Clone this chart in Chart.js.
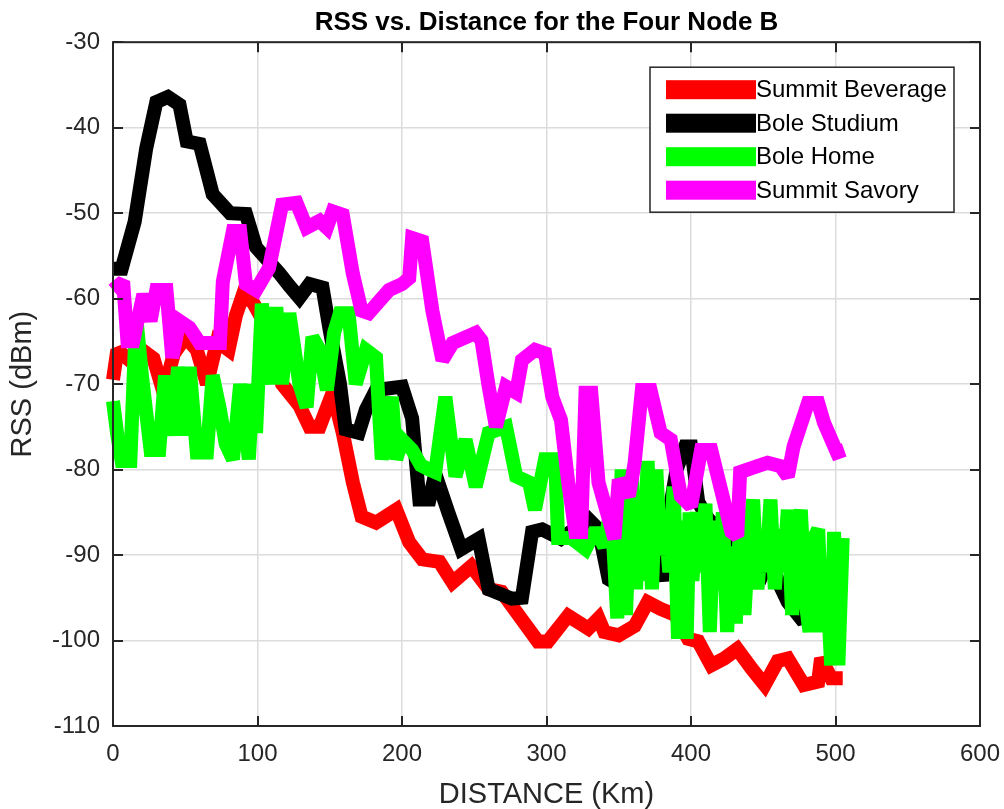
<!DOCTYPE html>
<html>
<head>
<meta charset="utf-8">
<script src="https://cdn.jsdelivr.net/npm/chart.js@4.4.1/dist/chart.umd.min.js"></script>
<style>
html,body{margin:0;padding:0;background:#fff;}
#wrap{width:1004px;height:809px;position:relative;}
</style>
</head>
<body>
<div id="wrap"><canvas id="c" width="1004" height="809"></canvas></div>
<script>
// ---- data ----
const chartTitle = 'RSS vs. Distance for the Four Node B';
const xTitle = 'DISTANCE (Km)';
const yTitle = 'RSS (dBm)';
const xTicks = [0, 100, 200, 300, 400, 500, 600];
const yTicks = [-110, -100, -90, -80, -70, -60, -50, -40, -30];

const seriesNames = ['Summit Beverage', 'Bole Studium', 'Bole Home', 'Summit Savory'];
const seriesColors = ['#ff0000', '#000000', '#00ff00', '#ff00ff'];

const beverageX = [0,3,10,20,28,35,42,50,58,65,72,80,85,90,97,102,106,117,129,136,143,152,159,166,172,182,196,205,214,226,235,248,260,269,281,294,301,315,329,336,340,350,361,370,379,389,398,405,414,423,432,442,451,460,467,478,488,490,497,505];
const beverageY = [-69.5,-66,-67,-66,-67,-71,-66.5,-64.5,-66,-70,-65,-66,-62,-59.5,-60.5,-62,-63,-70,-72.5,-75,-75,-71,-75.7,-81.5,-85.5,-86.2,-84.7,-88.5,-90.5,-90.8,-93.2,-91.3,-94,-94.3,-97.1,-100.1,-100.1,-97.1,-98.6,-97.4,-99,-99.4,-98.3,-95.5,-96.3,-97,-99.8,-100.1,-102.9,-102.1,-101,-103.3,-105.2,-102.4,-102.1,-105.2,-104.8,-102.1,-104.4,-104.4];

const studiumX = [0,6,15,23,30,38,46,51,60,69,81,92,99,107,115,122,129,136,145,150,157,161,170,175,182,200,207,212,219,223,232,241,253,260,276,283,290,297,310,329,336,343,350,355,360,365,370,375,380,385,390,396,400,405,412,420,425,430,435,440,445,450,455,460,467,476,485];
const studiumY = [-56.5,-56.5,-51,-42.4,-37,-36.4,-37.3,-41.6,-41.9,-47.8,-50,-50.1,-54,-55.5,-57,-58.5,-59.9,-58.3,-58.7,-63.7,-69.9,-75.3,-75.7,-73,-70.7,-70.3,-74,-83.5,-83.5,-80.5,-85,-89.3,-88.1,-94,-95.1,-95,-87.3,-87,-88.1,-85.8,-87,-92.8,-93.5,-90,-93,-88,-92,-90,-93,-85,-80,-77.3,-77.3,-83.8,-85.8,-87,-90,-88,-90,-92,-91,-92,-90,-93,-95.5,-97.4,-97];

const homeX = [0,3,6,12,16,20,26,32,36,41,45,50,53,58,65,69,74,78,83,88,94,97,99,103,110,113,117,122,129,134,138,143,148,153,157,163,168,175,182,186,193,196,200,207,213,219,223,230,237,244,251,260,272,279,288,292,299,306,308,317,327,334,340,343,346,349,352,355,357,359,362,364,367,370,373,376,379,382,385,388,391,394,397,399,401,404,407,410,413,416,419,422,425,428,431,434,437,440,443,446,449,452,455,458,461,464,467,470,473,476,479,482,485,488,491,494,497,499,502,505];
const homeY = [-72,-76,-79,-79,-62,-69,-77.7,-77.7,-69,-76,-68,-76,-68,-78,-78,-69,-73,-77,-78.8,-70,-78.8,-70,-75.7,-60.6,-70,-61,-70,-61.7,-70,-72.7,-64.5,-66,-70.7,-64,-61.7,-61.7,-70,-66,-66.9,-78.8,-71.5,-78.8,-76.5,-77.7,-79.5,-80,-80.3,-71.5,-80.8,-76.5,-82,-75.7,-75,-80.8,-81.5,-84.7,-78.8,-78.8,-88,-88,-89.3,-87,-89,-86,-88,-97.4,-80,-97,-88,-80,-94,-84,-93,-79,-94,-80,-90,-86,-92,-82,-99.8,-86,-99.8,-85,-93,-85,-92,-84,-99,-86,-94,-85,-99,-89,-98,-86,-97,-88,-83.5,-94,-88,-92,-83.5,-94,-87,-92,-84.7,-97,-88,-84.7,-95,-99,-88,-87,-99,-93,-102.9,-87.3,-102.9,-88];

const savoryX = [0,7,10,14,21,26,30,37,41,46,53,60,67,74,76,83,88,92,99,108,117,127,134,143,148,152,159,166,172,177,191,200,205,207,214,221,228,235,251,255,260,265,272,279,283,292,299,304,310,315,320,324,327,331,336,347,350,357,361,366,372,379,386,393,400,407,414,428,432,434,446,453,462,467,471,481,488,492,501,506];
const savoryY = [-59,-58,-65,-65,-59.5,-62.6,-59,-59,-66.9,-62.6,-63.4,-65.2,-65.2,-65.2,-58,-52.1,-52.1,-58.3,-59,-56.4,-49,-48.8,-51.7,-50.9,-51.7,-49.8,-50.2,-57.1,-61.4,-61.7,-59,-58.3,-57.6,-52.9,-53.3,-61.4,-67.2,-65.2,-64,-64.9,-70.3,-75,-70.3,-71,-67.2,-66,-66.4,-71.5,-74.2,-81.5,-87.3,-87.3,-71,-71,-81.5,-88.1,-81.2,-83.1,-79.2,-70.7,-70.7,-75.7,-76.5,-83.1,-84.3,-77.7,-77.7,-87.3,-87.8,-80.3,-79.6,-79.2,-79.6,-80.8,-77.3,-72.2,-72.2,-74.5,-78,-77.7];

const seriesX = [beverageX, studiumX, homeX, savoryX];
const seriesY = [beverageY, studiumY, homeY, savoryY];

// ---- build chart ----
const FONT = "'Liberation Sans', Arial, Helvetica, sans-serif";
const AXIS = '#262626';

function pts(xs, ys) { return xs.map((x, i) => ({ x: x, y: ys[i] })); }

const datasets = seriesNames.map((name, i) => ({
  label: name,
  data: pts(seriesX[i], seriesY[i]),
  borderColor: seriesColors[i],
  backgroundColor: seriesColors[i],
  borderWidth: 14,
  pointRadius: 0,
  pointHoverRadius: 0,
  tension: 0,
  fill: false,
  clip: false,
  borderJoinStyle: 'miter',
  borderCapStyle: 'butt',
  order: seriesNames.length - i
}));

const miterPlugin = {
  id: 'miter',
  afterLayout(chart) {
    // centre the title over the plotting area, as MATLAB does
    if (chart.titleBlock) {
      chart.titleBlock.left = chart.chartArea.left;
      chart.titleBlock.right = chart.chartArea.right;
    }
  },
  beforeDatasetsDraw(chart) { chart.ctx.miterLimit = 2; },
  afterDatasetsDraw(chart) { chart.ctx.miterLimit = 10; }
};

const framePlugin = {
  id: 'frame',
  afterDraw(chart) {
    const ctx = chart.ctx, a = chart.chartArea;
    const xs = chart.scales.x, ys = chart.scales.y;
    const tl = 10;
    ctx.save();
    ctx.strokeStyle = AXIS;
    ctx.lineWidth = 2;
    ctx.beginPath();
    xs.ticks.forEach(t => {
      const p = Math.round(xs.getPixelForValue(t.value));
      ctx.moveTo(p, a.bottom); ctx.lineTo(p, a.bottom - tl);
      ctx.moveTo(p, a.top); ctx.lineTo(p, a.top + tl);
    });
    ys.ticks.forEach(t => {
      const p = Math.round(ys.getPixelForValue(t.value));
      ctx.moveTo(a.left, p); ctx.lineTo(a.left + tl, p);
      ctx.moveTo(a.right, p); ctx.lineTo(a.right - tl, p);
    });
    ctx.stroke();
    ctx.strokeRect(a.left, a.top, a.right - a.left, a.bottom - a.top);

    // legend box inside the axes, top right
    const bw = 304, bh = 145;
    const bx = a.right - 26 - bw, by = a.top + 25;
    ctx.fillStyle = '#ffffff';
    ctx.fillRect(bx, by, bw, bh);
    ctx.lineWidth = 1.5;
    ctx.strokeRect(bx, by, bw, bh);
    ctx.font = '24px ' + FONT;
    ctx.textBaseline = 'middle';
    ctx.textAlign = 'left';
    const rowH = 33.5;
    seriesNames.forEach((name, i) => {
      const cy = by + 22.5 + i * rowH;
      ctx.fillStyle = seriesColors[i];
      ctx.fillRect(bx + 16, cy - 9.5, 90, 19);
      ctx.fillStyle = '#000000';
      ctx.fillText(name, bx + 106, cy + 1);
    });
    ctx.restore();
  }
};

new Chart(document.getElementById('c'), {
  type: 'line',
  data: { datasets: datasets },
  plugins: [miterPlugin, framePlugin],
  options: {
    responsive: false,
    animation: false,
    events: [],
    layout: { padding: { left: 0, right: 24, top: 0, bottom: 0 } },
    plugins: {
      legend: { display: false },
      tooltip: { enabled: false },
      title: {
        display: true,
        text: chartTitle,
        color: '#000000',
        font: { family: FONT, size: 26, weight: 'bold', lineHeight: 1.2 },
        padding: { top: 7, bottom: 4 }
      }
    },
    scales: {
      x: {
        type: 'linear',
        min: 0, max: 600,
        afterBuildTicks(scale) { scale.ticks = xTicks.map(v => ({ value: v })); },
        afterFit(scale) { scale.height = 83; scale.paddingLeft = 0; scale.paddingRight = 0; },
        ticks: { color: AXIS, font: { family: FONT, size: 24 }, padding: 14, maxRotation: 0, autoSkip: false },
        grid: { color: '#dcdcdc', lineWidth: 1.5, drawTicks: false },
        border: { display: false },
        title: { display: true, text: xTitle, color: AXIS, font: { family: FONT, size: 29, lineHeight: 1 }, padding: { top: 0, bottom: 0 } }
      },
      y: {
        type: 'linear',
        min: -110, max: -30,
        afterBuildTicks(scale) { scale.ticks = yTicks.map(v => ({ value: v })); },
        afterFit(scale) { scale.width = 113; scale.paddingTop = 0; scale.paddingBottom = 0; },
        ticks: { color: AXIS, font: { family: FONT, size: 24 }, padding: 13, autoSkip: false },
        grid: { color: '#dcdcdc', lineWidth: 1.5, drawTicks: false },
        border: { display: false },
        title: { display: true, text: yTitle, color: AXIS, font: { family: FONT, size: 29, lineHeight: 1 }, padding: { top: 8, bottom: 0 } }
      }
    }
  }
});
</script>
</body>
</html>
